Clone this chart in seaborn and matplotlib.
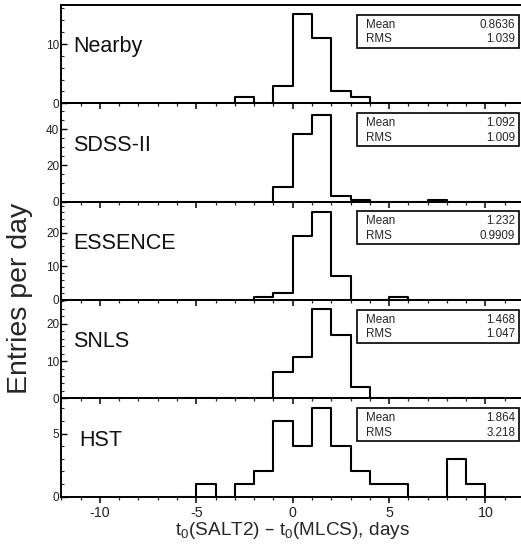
import matplotlib
matplotlib.use("Agg")
import matplotlib.pyplot as plt
import numpy as np
import pandas as pd
import seaborn as sns
from matplotlib.patches import Rectangle
from matplotlib.ticker import MultipleLocator

# entries per 1-day bin, lower edges -6 .. 10
bin_lows = [-6, -5, -4, -3, -2, -1, 0, 1, 2, 3, 4, 5, 6, 7, 8, 9, 10]
nearby = [0, 0, 0, 1, 0, 3, 15, 11, 2, 1, 0, 0, 0, 0, 0, 0, 0]
sdss = [0, 0, 0, 0, 0, 8, 37, 48, 3, 1, 0, 0, 0, 1, 0, 0, 0]
essence = [0, 0, 0, 0, 1, 2, 19, 26, 7, 0, 0, 1, 0, 0, 0, 0, 0]
snls = [0, 0, 0, 0, 0, 7, 11, 24, 17, 3, 0, 0, 0, 0, 0, 0, 0]
hst = [0, 1, 0, 1, 2, 6, 4, 7, 4, 2, 1, 1, 0, 0, 3, 1, 0]

samples = ["Nearby", "SDSS-II", "ESSENCE", "SNLS", "HST"]
counts = [nearby, sdss, essence, snls, hst]
means = ["0.8636", "1.092", "1.232", "1.468", "1.864"]
rms = ["1.039", "1.009", "0.9909", "1.047", "3.218"]
y_tops = [16.6, 54.2, 29.2, 26.4, 7.8]
y_major = [10, 20, 10, 10, 5]
y_minor = [2, 5, 2, 2, 1]

sns.set_theme(style="ticks")
plt.rcParams["font.family"] = ["Liberation Sans", "DejaVu Sans"]
plt.rcParams["mathtext.default"] = "regular"
plt.rcParams["axes.unicode_minus"] = False

fig = plt.figure(figsize=(5.21, 5.48), dpi=100)
left, right, top, bottom = 0.1177, 1.0058, 0.991, 0.0936
panel_h = (top - bottom) / len(samples)
edges = [float(b) for b in bin_lows] + [bin_lows[-1] + 1.0]

for i, (name, cnt) in enumerate(zip(samples, counts)):
    ax = fig.add_axes([left, top - (i + 1) * panel_h, right - left, panel_h])
    df = pd.DataFrame({"dt": np.array(bin_lows) + 0.5, "n": cnt})
    sns.histplot(data=df, x="dt", weights="n", bins=edges, element="step",
                 fill=False, color="black", linewidth=1.5, ax=ax)
    ax.set_xlim(-12, 12)
    ax.set_ylim(0, y_tops[i])
    ax.set_xlabel("")
    ax.set_ylabel("")
    ax.xaxis.set_major_locator(MultipleLocator(5))
    ax.xaxis.set_minor_locator(MultipleLocator(1))
    ax.yaxis.set_major_locator(MultipleLocator(y_major[i]))
    ax.yaxis.set_minor_locator(MultipleLocator(y_minor[i]))
    ax.tick_params(axis="x", which="major", direction="out", length=4.5, width=1.1, labelsize=10.3, pad=2)
    ax.tick_params(axis="x", which="minor", direction="out", length=2.3, width=0.9)
    ax.tick_params(axis="y", which="major", direction="in", length=4.5, width=1.0, labelsize=8.5, pad=1.5)
    ax.tick_params(axis="y", which="minor", direction="in", length=2.3, width=0.8)
    ax.tick_params(colors="black", labelcolor="#222222")
    if i < len(samples) - 1:
        ax.tick_params(axis="x", labelbottom=False)
    for sp in ax.spines.values():
        sp.set_linewidth(1.4)
        sp.set_color("black")
    ax.patch.set_alpha(0)

    lx = 0.038 if name == "HST" else 0.025
    ax.text(lx, 0.575, name, transform=ax.transAxes, fontsize=15.5, va="center", ha="left", color="#111111")

    ax.add_patch(Rectangle((0.640, 0.565), 0.35, 0.335, transform=ax.transAxes,
                           fill=False, edgecolor="black", linewidth=1.2, clip_on=False))
    ax.text(0.658, 0.80, "Mean", transform=ax.transAxes, fontsize=8.4, va="center", ha="left")
    ax.text(0.981, 0.80, means[i], transform=ax.transAxes, fontsize=8.4, va="center", ha="right")
    ax.text(0.658, 0.65, "RMS", transform=ax.transAxes, fontsize=8.4, va="center", ha="left")
    ax.text(0.981, 0.65, rms[i], transform=ax.transAxes, fontsize=8.4, va="center", ha="right")

    if i == len(samples) - 1:
        ax.set_xlabel(r"t$_0$(SALT2) – t$_0$(MLCS), days", fontsize=13.7, labelpad=0)

fig.text(0.038, 0.456, "Entries per day", rotation=90, fontsize=20.5, va="center", ha="center")

fig.savefig("out.png", dpi=100)
